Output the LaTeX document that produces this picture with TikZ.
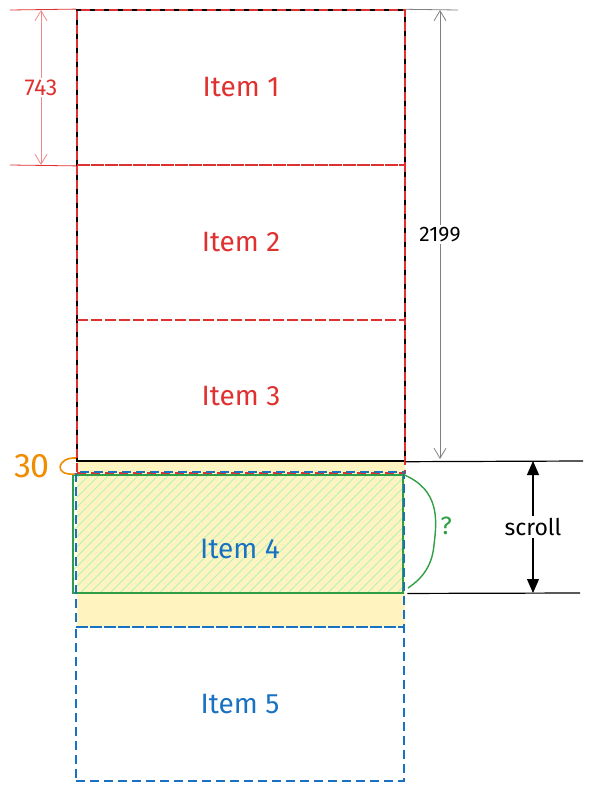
\documentclass[tikz,border=0pt]{standalone}
\usepackage{fontspec}
\setmainfont{Fira Sans}
\usepackage{tikz}
\usetikzlibrary{positioning,arrows.meta,calc,patterns.meta,backgrounds}
\definecolor{itemred}{HTML}{E03131}
\definecolor{itemblue}{HTML}{1971C2}
\definecolor{itemgreen}{HTML}{2F9E44}
\definecolor{hatchgreen}{HTML}{B2F2BB}
\definecolor{fillyellow}{HTML}{FFF3BF}
\definecolor{offorange}{HTML}{F08C00}
\definecolor{dimred}{HTML}{F08A8A}
\tikzset{
  itembox/.style={rectangle, minimum width=328pt, minimum height=155pt, inner sep=0pt, dashed, dash pattern=on 9pt off 5pt, line width=1.8pt, font=\fontsize{28}{30}\selectfont},
  redbox/.style={itembox, draw=itemred, text=itemred},
  bluebox/.style={itembox, draw=itemblue, text=itemblue},
  dimline/.style={line width=0.8pt},
  dimlabel/.style={fill=white, inner sep=2pt, font=\fontsize{23}{25}\selectfont},
}
\begin{document}
\begin{tikzpicture}[x=1pt, y=-1pt]
      \useasboundingbox (0,0) rectangle (593,792);
      % yellow offset area and the visible item
      \fill[fillyellow] (77,461) rectangle (405,627);
      \node[rectangle, minimum width=330pt, minimum height=118pt, inner sep=0pt, draw=itemgreen, line width=1.6pt,
            pattern={Lines[angle=45, distance=7pt, line width=0.9pt]}, pattern color=hatchgreen] (view) at (238,534) {};
      % the list
      \node[rectangle, minimum width=328pt, minimum height=451pt, inner sep=0pt, draw=black, line width=1.4pt] (stack) at (241,235.5) {};
      \node[redbox] (item1) at (241,87.5)  {Item 1};
      \node[redbox] (item2) at (241,242.5) {Item 2};
      \node[redbox, minimum height=153pt] (item3) at (241,396.5) {Item 3};
      \node[bluebox] (item4) at (240,549.5) {Item 4};
      \node[bluebox, minimum height=154pt] (item5) at (240,704) {Item 5};
      % item height
      \coordinate (h1) at (10,10);
      \coordinate (h2) at (10,165);
      \draw[dimline, itemred] (h1) -- (item1.north west);
      \draw[dimline, itemred] (h2) -- (item1.south west);
      \draw[dimline, dimred, {Straight Barb[length=10pt,width=12pt]}-{Straight Barb[length=10pt,width=12pt]}]
        ($(h1)+(31,0)$) -- node[dimlabel, text=itemred] (hlabel) {743} ($(h2)+(31,0)$);
      % total height
      \coordinate (t1) at (458,10);
      \coordinate (t2) at (440,459);
      \draw[dimline, gray] (stack.north east) -- (t1);
      \draw[dimline, gray, {Straight Barb[length=10pt,width=12pt]}-{Straight Barb[length=10pt,width=12pt]}]
        (440,10) -- node[dimlabel, text=black, font=\fontsize{21}{23}\selectfont] (tlabel) {2199} (t2);
      % scroll
      \coordinate (s1) at (583,461);
      \coordinate (s2) at (580,593);
      \draw[line width=1.2pt] (stack.south east) -- (s1);
      \draw[line width=1.2pt] (view.south east) ++(4,0) -- (s2);
      \draw[line width=1.1pt, {Triangle[length=14pt,width=12pt]}-{Triangle[length=14pt,width=12pt]}]
        (533,461) -- node[dimlabel] (slabel) {scroll} (533,593);
      % unknown gap
      \draw[itemgreen, line width=1.4pt] (view.north east) .. controls (440,490) and (437,520) .. (434,545)
        .. controls (432,568) and (420,580) .. (408,588);
      \node[text=itemgreen, font=\fontsize{25}{27}\selectfont] (qmark) at (446,526) {?};
      % offset
      \node[text=offorange, font=\fontsize{34}{36}\selectfont] (offlabel) at (32,466) {30};
      \draw[offorange, line width=1.6pt] (76,458) .. controls (57,457) and (53,476) .. (75,474);
    \end{tikzpicture}
\end{document}
